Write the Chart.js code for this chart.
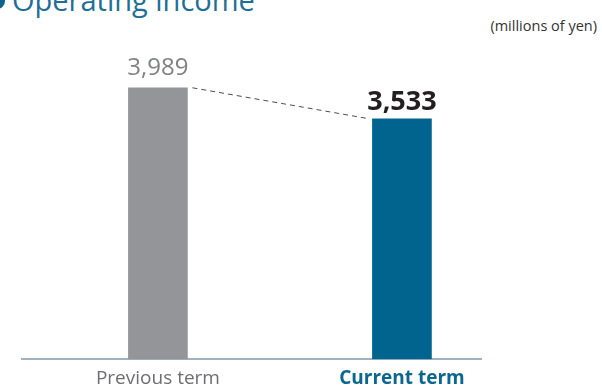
<!DOCTYPE html>
<html>
<head>
<meta charset="utf-8">
<script src="https://cdn.jsdelivr.net/npm/chart.js@4/dist/chart.umd.min.js"></script>
<style>
  html, body { margin: 0; padding: 0; background: #fff; }
  #wrap { position: relative; width: 602px; height: 389px; overflow: hidden; font-family: "Open Sans", "Noto Sans", sans-serif; }
  #title { position: absolute; left: 12px; top: -17px; font-size: 29px; line-height: 34px; color: #1f6f95; white-space: nowrap; }
  #bullet { position: absolute; left: -11px; top: -7px; width: 16px; height: 16px; border-radius: 50%; background: #0e628b; }
  #unit { position: absolute; right: 5px; top: 16px; font-size: 14.5px; color: #333; }
  #box { position: absolute; left: 0; top: 0; width: 602px; height: 398px; }
</style>
</head>
<body>
<div id="wrap">
  <div id="bullet"></div>
  <div id="title">Operating income</div>
  <div id="unit">(millions of yen)</div>
  <div id="box"><canvas id="c"></canvas></div>
</div>
<script>
// Operating income, previous vs. current term (millions of yen)
const categories = ["Previous term", "Current term"];
const values = [3989, 3533];
const valueLabels = ["3,989", "3,533"];

const barColors = ["#939598", "#00648f"];
const labelColors = ["#6d6e71", "#0b6690"];
const valueColors = ["#808285", "#231f20"];

// Value labels above bars and dashed connector between bar tops
const annotate = {
  id: "annotate",
  afterDatasetsDraw(chart) {
    const ctx = chart.ctx;
    const bars = chart.getDatasetMeta(0).data;
    ctx.save();
    // connector
    const a = bars[0], b = bars[1];
    ctx.strokeStyle = "#4d4d4f";
    ctx.lineWidth = 1;
    ctx.setLineDash([5, 4]);
    ctx.beginPath();
    ctx.moveTo(a.x + a.width / 2 + 5, a.y);
    ctx.lineTo(b.x - b.width / 2 - 3, b.y);
    ctx.stroke();
    ctx.setLineDash([]);
    // numbers
    ctx.textAlign = "center";
    ctx.textBaseline = "alphabetic";
    bars.forEach((bar, i) => {
      ctx.fillStyle = valueColors[i];
      ctx.font = i === 1 ? "bold 27px 'Open Sans', 'Noto Sans', sans-serif" : "24px 'Open Sans', 'Noto Sans', sans-serif";
      ctx.fillText(valueLabels[i], bar.x, bar.y - (i === 1 ? 9 : 13));
    });
    ctx.restore();
  }
};

new Chart(document.getElementById("c"), {
  type: "bar",
  data: {
    datasets: [{
      data: values.map((v, i) => ({ x: i, y: v })),
      backgroundColor: barColors,
      barThickness: 59
    }]
  },
  options: {
    responsive: true,
    maintainAspectRatio: false,
    animation: false,
    layout: { padding: { left: 22, right: 121, top: 19, bottom: 0 } },
    plugins: { legend: { display: false }, tooltip: { enabled: false } },
    scales: {
      x: {
        type: "linear",
        offset: false,
        min: -0.557,
        max: 1.324,
        afterBuildTicks(scale) { scale.ticks = categories.map((c, i) => ({ value: i })); },
        grid: { display: false, drawTicks: false },
        border: { display: true, color: "#9db4c0", width: 2 },
        ticks: {
          padding: 8,
          autoSkip: false,
          maxRotation: 0,
          callback: (v) => categories[v],
          color: (ctx) => labelColors[ctx.index],
          font: (ctx) => ({ family: "'Open Sans', 'Noto Sans', sans-serif", size: 19, weight: ctx.index === 1 ? "bold" : "normal" })
        }
      },
      y: {
        display: false,
        min: 0,
        max: 5000
      }
    }
  },
  plugins: [annotate]
});
</script>
</body>
</html>
